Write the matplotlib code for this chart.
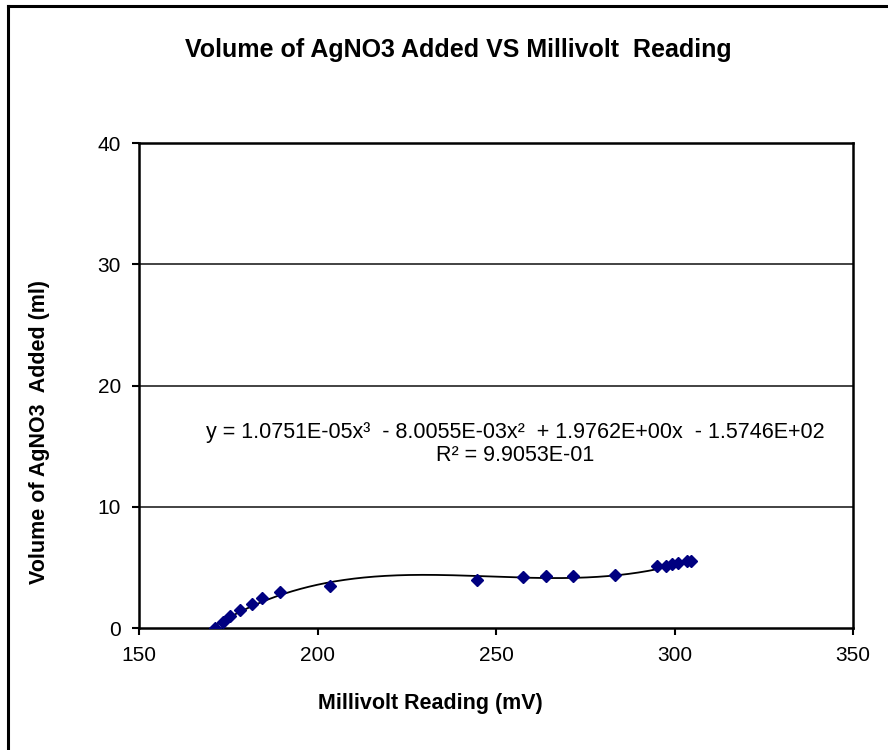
import numpy as np
import matplotlib.pyplot as plt
from matplotlib.lines import Line2D

plt.rcParams['font.family'] = ['Liberation Sans', 'DejaVu Sans']

# Titration readings: electrode potential vs. volume of titrant added
millivolts = [171.2, 173.5, 175.6, 178.4, 181.7, 184.5, 189.4, 203.5,
              244.8, 257.5, 264.1, 271.5, 283.4, 295.0, 297.5, 299.4,
              301.1, 303.4, 304.5]
volume_ml = [0.0, 0.5, 1.0, 1.5, 2.0, 2.5, 3.0, 3.5,
             4.0, 4.2, 4.3, 4.3, 4.4, 5.1, 5.1, 5.3,
             5.4, 5.5, 5.5]

# Cubic trendline coefficients (highest power first)
fit_coeffs = [1.0751e-05, -8.0055e-03, 1.9762e+00, -1.5746e+02]
r_squared = 9.9053e-01

x_ticks = [150, 200, 250, 300, 350]
y_ticks = [0, 10, 20, 30, 40]

fig = plt.figure(figsize=(8.88, 7.5), dpi=100)
ax = fig.add_axes([139 / 888, 1 - 628 / 750, (853 - 139) / 888, (628 - 143) / 750])

# chart frame (top and left edges)
fig.add_artist(Line2D([8 / 888, 8 / 888], [0, 1 - 6 / 750], color='black', lw=2.2))
fig.add_artist(Line2D([8 / 888, 1], [1 - 6 / 750, 1 - 6 / 750], color='black', lw=2.2))

for yv in y_ticks[1:-1]:
    ax.axhline(yv, color='#222222', lw=1.2, zorder=1)

xs = np.linspace(min(millivolts), max(millivolts), 400)
ax.plot(xs, np.polyval(fit_coeffs, xs), color='black', lw=1.3, zorder=2)
ax.plot(millivolts, volume_ml, linestyle='none', marker='D', markersize=6.5,
        color='#000080', markeredgecolor='#000080', zorder=3)

ax.set_xlim(150, 350)
ax.set_ylim(0, 40)
ax.set_xticks(x_ticks)
ax.set_yticks(y_ticks)
ax.tick_params(direction='out', length=5, width=1.5, labelsize=15, pad=8)
for s in ax.spines.values():
    s.set_linewidth(1.8)
    s.set_color('black')

eq = 'y = 1.0751E-05x³  - 8.0055E-03x²  + 1.9762E+00x  - 1.5746E+02'
ax.text(255.3, 16.1, eq, ha='center', va='center', fontsize=15.5)
ax.text(255.3, 14.2, 'R² = %.4E' % r_squared, ha='center', va='center', fontsize=15.5)

fig.text(430 / 888, 1 - 703 / 750, 'Millivolt Reading (mV)',
         ha='center', va='center', fontsize=15.5, fontweight='bold')
fig.text(40 / 888, 1 - 432 / 750, 'Volume of AgNO3  Added (ml)', rotation=90,
         ha='center', va='center', fontsize=15.5, fontweight='bold')
fig.text(458 / 888, 1 - 50 / 750, 'Volume of AgNO3 Added VS Millivolt  Reading',
         ha='center', va='center', fontsize=18, fontweight='bold')

fig.savefig('out.png', dpi=100)
